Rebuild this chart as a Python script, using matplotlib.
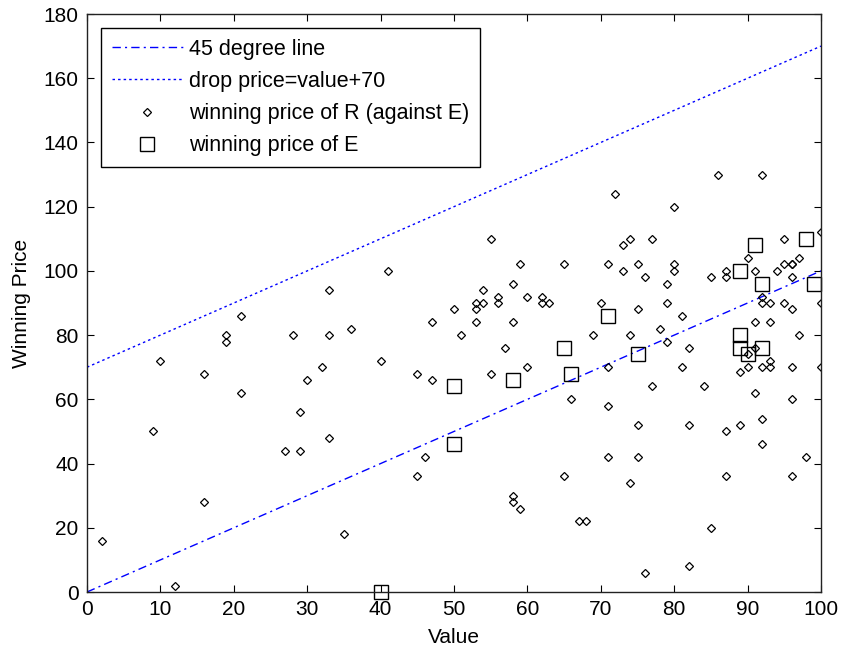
import numpy as np
import matplotlib
matplotlib.use("Agg")
import matplotlib.pyplot as plt

plt.rcParams['font.family'] = ['Liberation Sans', 'DejaVu Sans']

# ── data ─────────────────────────────────────────────
line_x = [0, 100]
line45_y = [0, 100]
drop_y = [70, 170]

# winning price of R (against E)
r_value = [2, 9, 10, 12, 16, 16, 19, 19, 21, 21, 27, 28, 29, 29, 30, 32, 33, 33, 33, 35, 36,
           40, 41, 45, 45, 46, 47, 47, 50, 51, 53, 53, 53, 54, 54, 55, 55, 56, 56, 57,
           58, 58, 58, 58, 59, 59, 60, 60, 62, 62, 63, 65, 65, 66, 67, 68,
           69, 70, 71, 71, 71, 71, 72, 73, 73, 74, 74, 74, 75, 75, 75, 75, 76, 76,
           77, 77, 78, 79, 79, 79, 80, 80, 80, 81, 81, 82, 82, 82, 84, 85, 85, 86,
           87, 87, 87, 87, 89, 89, 90, 90, 90, 91, 91, 91, 91, 92, 92, 92, 92, 92, 92,
           93, 93, 93, 93, 94, 95, 95, 95, 96, 96, 96, 96, 96, 96, 96, 97, 97, 98,
           100, 100, 100]
r_price = [16, 50, 72, 2, 68, 28, 80, 78, 86, 62, 44, 80, 56, 44, 66, 70, 94, 80, 48, 18, 82,
           72, 100, 68, 36, 42, 84, 66, 88, 80, 90, 88, 84, 94, 90, 110, 68, 92, 90, 76,
           96, 84, 30, 28, 102, 26, 92, 70, 92, 90, 90, 102, 36, 60, 22, 22,
           80, 90, 102, 70, 58, 42, 124, 108, 100, 110, 80, 34, 102, 88, 52, 42, 98, 6,
           110, 64, 82, 96, 90, 78, 120, 102, 100, 86, 70, 76, 52, 8, 64, 98, 20, 130,
           100, 98, 50, 36, 68.5, 52, 104, 74, 70, 100, 84, 76, 62, 130, 92, 90, 70, 54, 46,
           90, 84, 72, 70, 100, 110, 102, 90, 102, 98, 88, 70, 60, 36, 102, 104, 80, 42,
           112, 90, 70]

# winning price of E
e_value = [40, 50, 50, 58, 65, 66, 71, 75, 89, 89, 89, 90, 91, 92, 92, 98, 99]
e_price = [0, 64, 46, 66, 76, 68, 86, 74, 100, 80, 76, 74, 108, 96, 76, 110, 96]

# ── plot ─────────────────────────────────────────────
fig = plt.figure(figsize=(8.44, 6.52), dpi=100)
ax = fig.add_axes([87 / 844, 60 / 652, 734 / 844, 578 / 652])

ax.plot(line_x, line45_y, color='blue', lw=1.0, linestyle=(0, (6, 3, 1.5, 3)),
        label='45 degree line')
ax.plot(line_x, drop_y, color='blue', lw=1.0, linestyle=(0, (1.8, 2.2)),
        label='drop price=value+70')
ax.plot(r_value, r_price, linestyle='none', marker='D', markersize=4.2,
        markerfacecolor='none', markeredgecolor='black', markeredgewidth=0.9,
        label='winning price of R (against E)')
ax.plot(e_value, e_price, linestyle='none', marker='s', markersize=10.5,
        markerfacecolor='none', markeredgecolor='black', markeredgewidth=1.0,
        label='winning price of E', clip_on=False)

ax.set_xlim(0, 100)
ax.set_ylim(0, 180)
ax.set_xticks(np.arange(0, 101, 10))
ax.set_yticks(np.arange(0, 181, 20))
ax.tick_params(direction='in', length=5, width=0.8, top=True, right=True,
               labelsize=15, pad=6)
for s in ax.spines.values():
    s.set_linewidth(1.0)
    s.set_color('#222222')

ax.set_xlabel('Value', fontsize=15, labelpad=6)
ax.set_ylabel('Winning Price', fontsize=15, labelpad=9)

leg = ax.legend(loc='upper left', fontsize=15.5, numpoints=1, fancybox=False,
                handlelength=3.3, handletextpad=0.3, labelspacing=0.52,
                borderpad=0.5, borderaxespad=0.65, framealpha=1)
leg.get_frame().set_edgecolor('black')
leg.get_frame().set_linewidth(1.0)

fig.savefig('out.png', dpi=100)
